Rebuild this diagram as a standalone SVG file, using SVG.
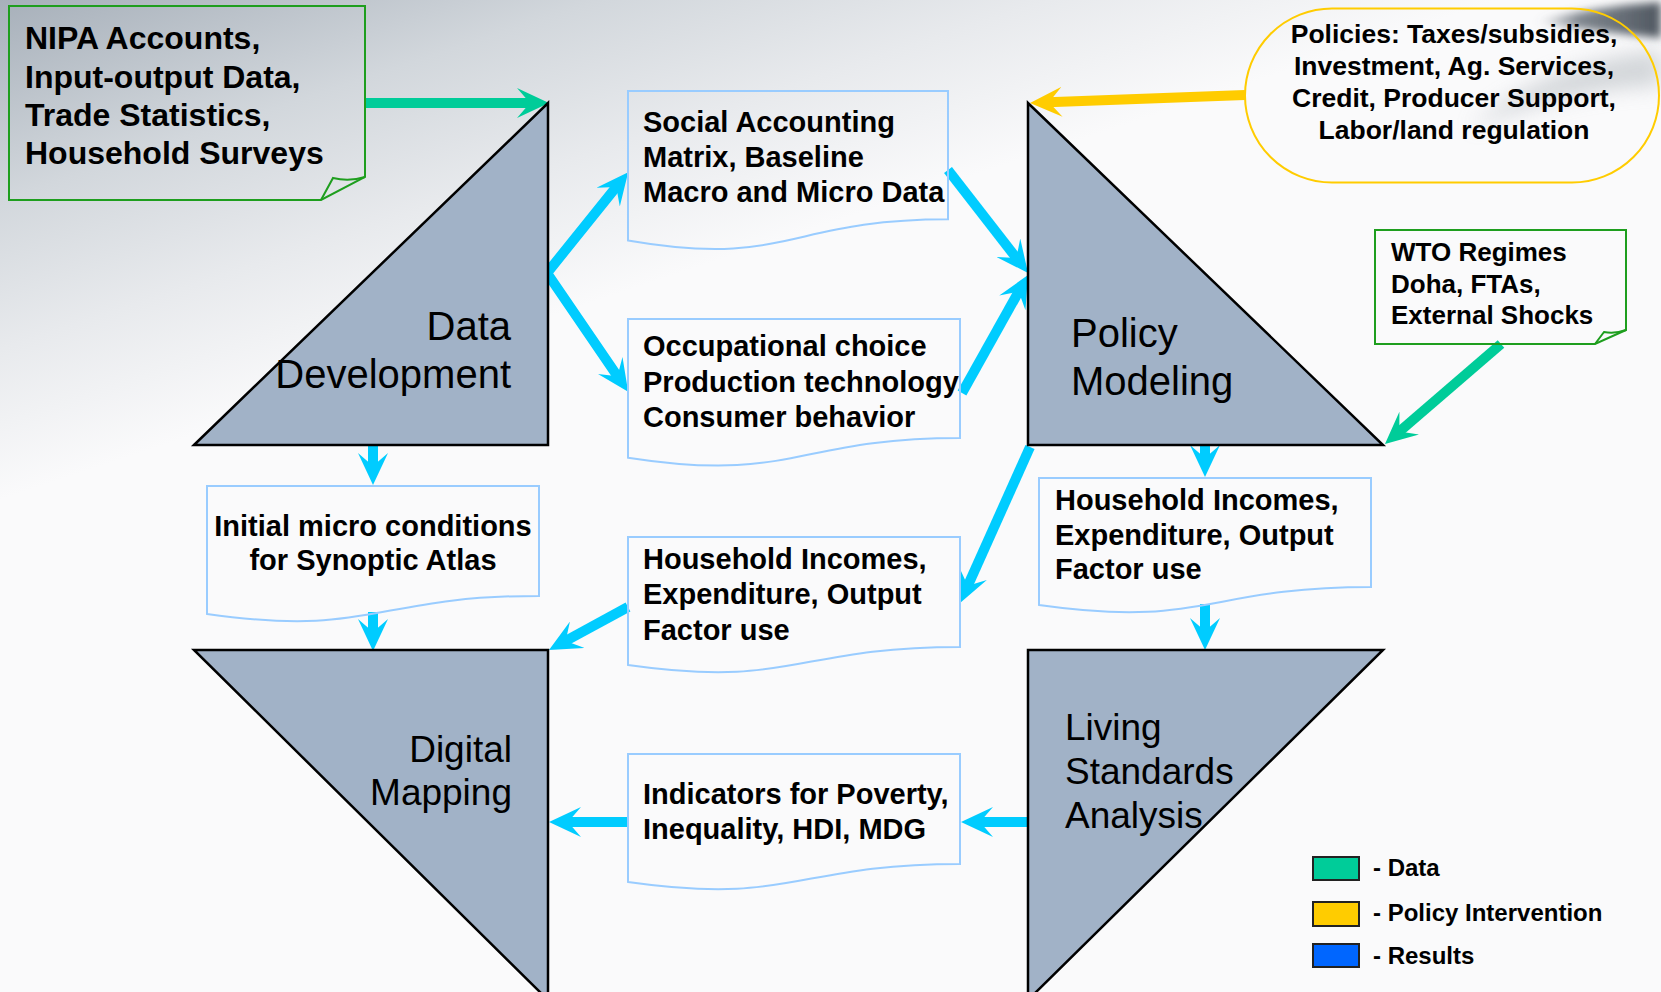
<svg xmlns="http://www.w3.org/2000/svg" width="1661" height="992" viewBox="0 0 1661 992">
<defs>
<linearGradient id="bg" gradientUnits="userSpaceOnUse" x1="0" y1="0" x2="150" y2="450">
<stop offset="0" stop-color="#A7B0BA"/>
<stop offset="0.4" stop-color="#D2D7DC"/>
<stop offset="0.7" stop-color="#E8EAED"/>
<stop offset="1" stop-color="#FAFAFB"/>
</linearGradient>
<linearGradient id="swoosh" x1="0" y1="0" x2="1" y2="0">
<stop offset="0" stop-color="#6A727B" stop-opacity="0"/>
<stop offset="0.35" stop-color="#6A727B" stop-opacity="0.85"/>
<stop offset="1" stop-color="#4F5760"/>
</linearGradient>
<filter id="blur4" x="-20%" y="-50%" width="140%" height="200%"><feGaussianBlur stdDeviation="4"/></filter>
<filter id="blur10" x="-20%" y="-50%" width="140%" height="200%"><feGaussianBlur stdDeviation="10"/></filter>
<marker id="hc" markerUnits="userSpaceOnUse" markerWidth="32" markerHeight="30" refX="14" refY="15" orient="auto-start-reverse"><path d="M0,0 L32,15 L0,30 L13,15 Z" fill="#00CCFF"/></marker>
<marker id="hg" markerUnits="userSpaceOnUse" markerWidth="32" markerHeight="30" refX="14" refY="15" orient="auto"><path d="M0,0 L32,15 L0,30 L13,15 Z" fill="#00CC99"/></marker>
<marker id="hy" markerUnits="userSpaceOnUse" markerWidth="32" markerHeight="30" refX="14" refY="15" orient="auto"><path d="M0,0 L32,15 L0,30 L13,15 Z" fill="#FFCC00"/></marker>
<style>
.tri{fill:#A1B2C7;stroke:#000;stroke-width:2.5;stroke-linejoin:miter}
.doc{fill:none;stroke:#99CCFF;stroke-width:2}
.note{fill:none;stroke:#1E9E1E;stroke-width:2}
.bt{font-family:"Liberation Sans",Arial,sans-serif;font-weight:bold;fill:#000}
.big{font-family:"Liberation Sans",Arial,sans-serif;fill:#000}
.c{fill:none;stroke:#00CCFF;stroke-width:10}
.g{fill:none;stroke:#00CC99;stroke-width:10}
.y{fill:none;stroke:#FFCC00;stroke-width:10}
.leg{stroke:#222;stroke-width:2}
</style>
</defs>
<rect x="0" y="0" width="1661" height="992" fill="url(#bg)"/>
<g id="background-swoosh">
<path d="M1470,128 Q1545,62 1661,50 L1661,86 Q1570,88 1470,128 Z" fill="#C9CDD1" opacity="0.8" filter="url(#blur10)"/>
<path d="M1535,22 Q1595,6 1661,2 L1661,38 Q1600,32 1535,22 Z" fill="url(#swoosh)" filter="url(#blur4)"/>
</g>

<g id="connectors">
<path class="g" d="M365,103 L531,103" marker-end="url(#hg)"/>
<path class="y" d="M1245,95 L1048,102.3" marker-end="url(#hy)"/>
<path class="g" d="M1501,344 L1398.6,432.2" marker-end="url(#hg)"/>
<path class="c" d="M616.9,186.2 L547,273 L618,377" marker-start="url(#hc)" marker-end="url(#hc)"/>
<path class="c" d="M948,170 L1017,258.8" marker-end="url(#hc)"/>
<path class="c" d="M962,393 L1019.2,290.7" marker-end="url(#hc)"/>
<path class="c" d="M1030,447 L967.4,586.6" marker-end="url(#hc)"/>
<path class="c" d="M628,607 L564.8,641.4" marker-end="url(#hc)"/>
<path class="c" d="M373,445 L373,467" marker-end="url(#hc)"/>
<path class="c" d="M373,612 L373,633" marker-end="url(#hc)"/>
<path class="c" d="M1205,445 L1205,459" marker-end="url(#hc)"/>
<path class="c" d="M1205,604 L1205,632" marker-end="url(#hc)"/>
<path class="c" d="M1028,822 L979,822" marker-end="url(#hc)"/>
<path class="c" d="M628,822 L567,822" marker-end="url(#hc)"/>
</g>

<g id="data-development">
<path class="tri" d="M194,445 L548,103 L548,445 Z"/>
<text class="big" font-size="40" text-anchor="end"><tspan x="511" y="340">Data</tspan><tspan x="511" y="388">Development</tspan></text>
</g>
<g id="policy-modeling">
<path class="tri" d="M1028,103 L1028,445 L1383,445 Z"/>
<text class="big" font-size="40"><tspan x="1071" y="347">Policy</tspan><tspan x="1071" y="395">Modeling</tspan></text>
</g>
<g id="digital-mapping">
<path class="tri" d="M194,650 L548,650 L548,1000 Z"/>
<text class="big" font-size="37" text-anchor="end"><tspan x="512" y="762">Digital</tspan><tspan x="512" y="805">Mapping</tspan></text>
</g>
<g id="living-standards">
<path class="tri" d="M1028,650 L1383,650 L1028,1000 Z"/>
<text class="big" font-size="37"><tspan x="1065" y="740">Living</tspan><tspan x="1065" y="784">Standards</tspan><tspan x="1065" y="828">Analysis</tspan></text>
</g>

<g id="nipa-data">
<path class="note" d="M9,6 H365 V177 L321,200 H9 Z"/>
<path class="note" d="M321,200 L333,178 Q349,182 365,177"/>
<text class="bt" font-size="32"><tspan x="25" y="49">NIPA Accounts,</tspan><tspan x="25" y="88">Input-output Data,</tspan><tspan x="25" y="126">Trade Statistics,</tspan><tspan x="25" y="164">Household Surveys</tspan></text>
</g>

<g id="policies">
<rect x="1245" y="8.5" width="414" height="174" rx="87" ry="87" fill="none" stroke="#FFCC00" stroke-width="2"/>
<text class="bt" font-size="26.5" text-anchor="middle"><tspan x="1454" y="43">Policies: Taxes/subsidies,</tspan><tspan x="1454" y="75">Investment, Ag. Services,</tspan><tspan x="1454" y="107">Credit, Producer Support,</tspan><tspan x="1454" y="139">Labor/land regulation</tspan></text>
</g>

<g id="wto">
<path class="note" d="M1375,230 H1626 V330 L1595,344 H1375 Z"/>
<path class="note" d="M1595,344 L1604,332 Q1615,334 1626,330"/>
<text class="bt" font-size="26"><tspan x="1391" y="261">WTO Regimes</tspan><tspan x="1391" y="293">Doha, FTAs,</tspan><tspan x="1391" y="324">External Shocks</tspan></text>
</g>

<g id="sam">
<path class="doc" d="M628,91 H948 V219.3 C788,219.3 788,268.2 628,240.4 Z"/>
<text class="bt" font-size="29"><tspan x="643" y="132">Social Accounting</tspan><tspan x="643" y="167">Matrix, Baseline</tspan><tspan x="643" y="202">Macro and Micro Data</tspan></text>
</g>

<g id="behavior">
<path class="doc" d="M628,319 H960 V438.1 C794,438.1 794,483.5 628,457.7 Z"/>
<text class="bt" font-size="29"><tspan x="643" y="356">Occupational choice</tspan><tspan x="643" y="391.5">Production technology</tspan><tspan x="643" y="427">Consumer behavior</tspan></text>
</g>

<g id="initial-micro">
<path class="doc" d="M207,486 H539 V595.9 C373,595.9 373,637.7 207,614 Z"/>
<text class="bt" font-size="29" text-anchor="middle"><tspan x="373" y="536">Initial micro conditions</tspan><tspan x="373" y="570">for Synoptic Atlas</tspan></text>
</g>

<g id="household-mid">
<path class="doc" d="M628,537 H960 V646.9 C794,646.9 794,688.7 628,665 Z"/>
<text class="bt" font-size="29"><tspan x="643" y="568.5">Household Incomes,</tspan><tspan x="643" y="604">Expenditure, Output</tspan><tspan x="643" y="639.5">Factor use</tspan></text>
</g>

<g id="household-right">
<path class="doc" d="M1039,478 H1371 V587.1 C1205,587.1 1205,628.6 1039,605 Z"/>
<text class="bt" font-size="29"><tspan x="1055" y="509.5">Household Incomes,</tspan><tspan x="1055" y="544.5">Expenditure, Output</tspan><tspan x="1055" y="579">Factor use</tspan></text>
</g>

<g id="indicators">
<path class="doc" d="M628,754 H960 V863.9 C794,863.9 794,905.7 628,882 Z"/>
<text class="bt" font-size="29"><tspan x="643" y="803.5">Indicators for Poverty,</tspan><tspan x="643" y="838.5">Inequality, HDI, MDG</tspan></text>
</g>

<g id="legend">
<rect class="leg" x="1313" y="857" width="46" height="23" fill="#00CC99"/>
<rect class="leg" x="1313" y="902" width="46" height="24" fill="#FFCC00"/>
<rect class="leg" x="1313" y="944" width="46" height="23" fill="#0066FF"/>
<text class="bt" font-size="24"><tspan x="1373" y="876">- Data</tspan><tspan x="1373" y="921">- Policy Intervention</tspan><tspan x="1373" y="964">- Results</tspan></text>
</g>
</svg>
